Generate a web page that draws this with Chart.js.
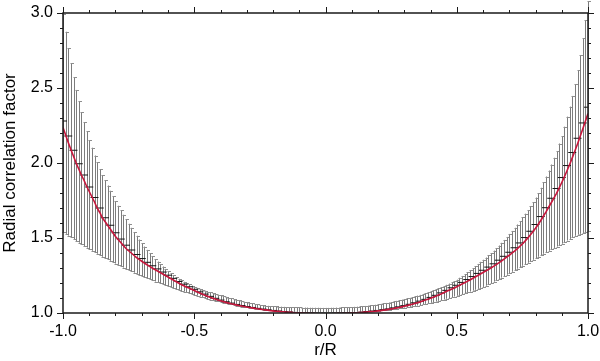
<!DOCTYPE html>
<html>
<head>
<meta charset="utf-8">
<script src="https://cdn.jsdelivr.net/npm/chart.js@4.4.1/dist/chart.umd.min.js"></script>
<style>
  body { margin: 0; background: #fff; }
  canvas { display: block; }
</style>
</head>
<body>
<canvas id="chartCorrelacion" width="600" height="361"></canvas>
<script>
// r/R positions of the bins
const radio = [
  -1.00, -0.99, -0.98, -0.97, -0.96, -0.95, -0.94, -0.93, -0.92, -0.91,
  -0.90, -0.89, -0.88, -0.87, -0.86, -0.85, -0.84, -0.83, -0.82, -0.81,
  -0.80, -0.79, -0.78, -0.77, -0.76, -0.75, -0.74, -0.73, -0.72, -0.71,
  -0.70, -0.69, -0.68, -0.67, -0.66, -0.65, -0.64, -0.63, -0.62, -0.61,
  -0.60, -0.59, -0.58, -0.57, -0.56, -0.55, -0.54, -0.53, -0.52, -0.51,
  -0.50, -0.49, -0.48, -0.47, -0.46, -0.45, -0.44, -0.43, -0.42, -0.41,
  -0.40, -0.39, -0.38, -0.37, -0.36, -0.35, -0.34, -0.33, -0.32, -0.31,
  -0.30, -0.29, -0.28, -0.27, -0.26, -0.25, -0.24, -0.23, -0.22, -0.21,
  -0.20, -0.19, -0.18, -0.17, -0.16, -0.15, -0.14, -0.13, -0.12, -0.11,
  -0.10, -0.09, -0.08, -0.07, -0.06, -0.05, -0.04, -0.03, -0.02, -0.01,
  0.00,
  0.01, 0.02, 0.03, 0.04, 0.05, 0.06, 0.07, 0.08, 0.09, 0.10,
  0.11, 0.12, 0.13, 0.14, 0.15, 0.16, 0.17, 0.18, 0.19, 0.20,
  0.21, 0.22, 0.23, 0.24, 0.25, 0.26, 0.27, 0.28, 0.29, 0.30,
  0.31, 0.32, 0.33, 0.34, 0.35, 0.36, 0.37, 0.38, 0.39, 0.40,
  0.41, 0.42, 0.43, 0.44, 0.45, 0.46, 0.47, 0.48, 0.49, 0.50,
  0.51, 0.52, 0.53, 0.54, 0.55, 0.56, 0.57, 0.58, 0.59, 0.60,
  0.61, 0.62, 0.63, 0.64, 0.65, 0.66, 0.67, 0.68, 0.69, 0.70,
  0.71, 0.72, 0.73, 0.74, 0.75, 0.76, 0.77, 0.78, 0.79, 0.80,
  0.81, 0.82, 0.83, 0.84, 0.85, 0.86, 0.87, 0.88, 0.89, 0.90,
  0.91, 0.92, 0.93, 0.94, 0.95, 0.96, 0.97, 0.98, 0.99, 1.00
]

// red curve
const factor = [
  2.237, 2.187, 2.137, 2.09, 2.045, 2.0, 1.96, 1.92, 1.885, 1.845,
  1.81, 1.775, 1.74, 1.70, 1.67, 1.635, 1.61, 1.585, 1.56, 1.535,
  1.51, 1.49, 1.47, 1.45, 1.43, 1.415, 1.40, 1.385, 1.37, 1.357,
  1.345, 1.333, 1.322, 1.311, 1.30, 1.29, 1.28, 1.27, 1.26, 1.25,
  1.24, 1.23, 1.22, 1.21, 1.20, 1.19, 1.182, 1.174, 1.166, 1.158,
  1.15, 1.142, 1.134, 1.126, 1.119, 1.112, 1.105, 1.099, 1.093, 1.087,
  1.081, 1.076, 1.071, 1.067, 1.062, 1.058, 1.054, 1.05, 1.047, 1.043,
  1.04, 1.037, 1.034, 1.031, 1.028, 1.026, 1.023, 1.021, 1.019, 1.016,
  1.014, 1.012, 1.011, 1.009, 1.008, 1.006, 1.005, 1.004, 1.002, 1.001,
  1.0, 0.999, 0.998, 0.998, 0.997, 0.996, 0.996, 0.995, 0.995, 0.994,
  0.994,
  0.994, 0.995, 0.995, 0.996, 0.996, 0.997, 0.997, 0.998, 0.998, 0.999,
  1.0, 1.001, 1.003, 1.004, 1.006, 1.007, 1.009, 1.01, 1.012, 1.014,
  1.016, 1.019, 1.021, 1.024, 1.027, 1.03, 1.034, 1.037, 1.041, 1.045,
  1.049, 1.054, 1.058, 1.063, 1.068, 1.074, 1.08, 1.086, 1.092, 1.098,
  1.105, 1.112, 1.12, 1.127, 1.135, 1.143, 1.151, 1.159, 1.167, 1.175,
  1.184, 1.193, 1.202, 1.211, 1.22, 1.23, 1.24, 1.25, 1.26, 1.27,
  1.28, 1.29, 1.30, 1.311, 1.322, 1.334, 1.346, 1.359, 1.372, 1.385,
  1.399, 1.413, 1.428, 1.444, 1.46, 1.479, 1.499, 1.52, 1.542, 1.565,
  1.59, 1.617, 1.645, 1.674, 1.705, 1.735, 1.766, 1.798, 1.833, 1.87,
  1.908, 1.948, 1.99, 2.034, 2.08, 2.127, 2.176, 2.227, 2.278, 2.33
]

// top of the gray error bars
const superior = [
  2.99, 2.875, 2.764, 2.666, 2.572, 2.487, 2.411, 2.34, 2.273, 2.211,
  2.152, 2.102, 2.05, 2.005, 1.96, 1.92, 1.885, 1.85, 1.815, 1.78,
  1.745, 1.715, 1.685, 1.655, 1.625, 1.595, 1.568, 1.54, 1.515, 1.49,
  1.465, 1.443, 1.421, 1.40, 1.38, 1.36, 1.343, 1.326, 1.31, 1.294,
  1.279, 1.265, 1.252, 1.24, 1.228, 1.217, 1.208, 1.2, 1.191, 1.183,
  1.175, 1.168, 1.161, 1.155, 1.149, 1.143, 1.138, 1.133, 1.128, 1.123,
  1.118, 1.113, 1.108, 1.103, 1.098, 1.093, 1.088, 1.084, 1.08, 1.076,
  1.072, 1.068, 1.064, 1.06, 1.057, 1.054, 1.052, 1.05, 1.048, 1.046,
  1.045, 1.044, 1.043, 1.042, 1.041, 1.04, 1.039, 1.038, 1.038, 1.037,
  1.037, 1.036, 1.036, 1.036, 1.035, 1.035, 1.035, 1.035, 1.034, 1.034,
  1.034,
  1.034, 1.035, 1.035, 1.036, 1.036, 1.037, 1.037, 1.038, 1.039, 1.04,
  1.041, 1.042, 1.044, 1.045, 1.047, 1.049, 1.051, 1.053, 1.055, 1.058,
  1.061, 1.064, 1.067, 1.07, 1.073, 1.077, 1.081, 1.085, 1.089, 1.093,
  1.097, 1.101, 1.106, 1.111, 1.116, 1.121, 1.127, 1.133, 1.139, 1.145,
  1.152, 1.159, 1.166, 1.173, 1.18, 1.188, 1.196, 1.204, 1.213, 1.222,
  1.235, 1.247, 1.259, 1.272, 1.285, 1.299, 1.313, 1.327, 1.341, 1.355,
  1.37, 1.385, 1.40, 1.416, 1.433, 1.45, 1.468, 1.487, 1.507, 1.527,
  1.547, 1.568, 1.59, 1.613, 1.637, 1.662, 1.686, 1.712, 1.74, 1.77,
  1.80, 1.835, 1.87, 1.91, 1.95, 1.99, 2.035, 2.08, 2.13, 2.18,
  2.242, 2.309, 2.376, 2.447, 2.525, 2.62, 2.72, 2.83, 2.95, 3.08
]

// bottom of the gray error bars
const inferior = [
  1.54, 1.528, 1.516, 1.504, 1.492, 1.48, 1.469, 1.458, 1.447, 1.436,
  1.425, 1.415, 1.405, 1.395, 1.385, 1.375, 1.366, 1.357, 1.348, 1.339,
  1.33, 1.321, 1.312, 1.303, 1.294, 1.285, 1.277, 1.269, 1.261, 1.253,
  1.245, 1.238, 1.231, 1.224, 1.217, 1.21, 1.204, 1.197, 1.191, 1.184,
  1.178, 1.172, 1.166, 1.16, 1.154, 1.148, 1.142, 1.137, 1.131, 1.126,
  1.12, 1.115, 1.11, 1.105, 1.1, 1.095, 1.09, 1.086, 1.081, 1.077,
  1.072, 1.068, 1.064, 1.061, 1.057, 1.053, 1.05, 1.046, 1.043, 1.04,
  1.037, 1.035, 1.032, 1.03, 1.027, 1.025, 1.023, 1.021, 1.02, 1.018,
  1.016, 1.015, 1.014, 1.012, 1.011, 1.01, 1.009, 1.009, 1.008, 1.008,
  1.007, 1.007, 1.006, 1.006, 1.005, 1.005, 1.005, 1.005, 1.005, 1.005,
  1.005,
  1.005, 1.005, 1.005, 1.005, 1.005, 1.005, 1.006, 1.006, 1.006, 1.007,
  1.007, 1.008, 1.008, 1.009, 1.01, 1.011, 1.012, 1.013, 1.015, 1.016,
  1.018, 1.019, 1.021, 1.023, 1.025, 1.027, 1.029, 1.031, 1.034, 1.036,
  1.039, 1.041, 1.044, 1.047, 1.05, 1.053, 1.057, 1.061, 1.064, 1.068,
  1.072, 1.076, 1.081, 1.085, 1.09, 1.095, 1.1, 1.105, 1.11, 1.115,
  1.12, 1.126, 1.131, 1.137, 1.143, 1.149, 1.155, 1.161, 1.168, 1.174,
  1.182, 1.191, 1.2, 1.209, 1.218, 1.227, 1.236, 1.246, 1.255, 1.265,
  1.275, 1.285, 1.295, 1.305, 1.315, 1.325, 1.335, 1.345, 1.355, 1.365,
  1.375, 1.385, 1.395, 1.405, 1.415, 1.424, 1.434, 1.443, 1.453, 1.462,
  1.473, 1.483, 1.494, 1.504, 1.515, 1.522, 1.528, 1.534, 1.539, 1.544
]

// black dash markers (every second bin)
const radioMedia = [
  -1.00, -0.98, -0.96, -0.94, -0.92, -0.90, -0.88, -0.86, -0.84, -0.82,
  -0.80, -0.78, -0.76, -0.74, -0.72, -0.70, -0.68, -0.66, -0.64, -0.62,
  -0.60, -0.58, -0.56, -0.54, -0.52, -0.50, -0.48, -0.46, -0.44, -0.42,
  -0.40, -0.38, -0.36, -0.34, -0.32, -0.30, -0.28, -0.26, -0.24, -0.22,
  -0.20, -0.18, -0.16, -0.14, -0.12, -0.10, -0.08, -0.06, -0.04, -0.02,
  0.00,
  0.02, 0.04, 0.06, 0.08, 0.10, 0.12, 0.14, 0.16, 0.18, 0.20,
  0.22, 0.24, 0.26, 0.28, 0.30, 0.32, 0.34, 0.36, 0.38, 0.40,
  0.42, 0.44, 0.46, 0.48, 0.50, 0.52, 0.54, 0.56, 0.58, 0.60,
  0.62, 0.64, 0.66, 0.68, 0.70, 0.72, 0.74, 0.76, 0.78, 0.80,
  0.82, 0.84, 0.86, 0.88, 0.90, 0.92, 0.94, 0.96, 0.98, 1.00
]
const media = [
  2.28, 2.18, 2.085, 1.995, 1.92, 1.84, 1.77, 1.70, 1.635, 1.585,
  1.535, 1.493, 1.452, 1.42, 1.39, 1.363, 1.338, 1.315, 1.294, 1.273,
  1.252, 1.231, 1.21, 1.192, 1.175, 1.158, 1.141, 1.126, 1.111, 1.098,
  1.086, 1.075, 1.066, 1.057, 1.05, 1.043, 1.037, 1.031, 1.026, 1.021,
  1.017, 1.013, 1.01, 1.007, 1.004, 1.002, 1.0, 0.999, 0.998, 0.997,
  0.996,
  0.997, 0.998, 0.999, 1.0, 1.001, 1.003, 1.006, 1.01, 1.013, 1.017,
  1.022, 1.027, 1.034, 1.041, 1.049, 1.058, 1.068, 1.079, 1.091, 1.104,
  1.118, 1.134, 1.151, 1.168, 1.185, 1.204, 1.223, 1.243, 1.264, 1.285,
  1.306, 1.328, 1.352, 1.378, 1.405, 1.435, 1.467, 1.503, 1.545, 1.59,
  1.643, 1.702, 1.765, 1.83, 1.903, 1.983, 2.07, 2.165, 2.267, 2.372
]

// labelled ticks
const ticksX = [-1.0, -0.5, 0.0, 0.5, 1.0]
const ticksY = [1.0, 1.5, 2.0, 2.5, 3.0]

const fuente = "'Liberation Sans', Arial, Helvetica, sans-serif"

const esMayor = (v, lista) => lista.some(t => Math.abs(t - v) < 1e-6)

// gray error bars, drawn under the curves
const barrasError = {
  id: 'barrasError',
  beforeDatasetsDraw(chart) {
    const { ctx, scales: { x, y } } = chart
    ctx.save()
    ctx.lineWidth = 1
    radio.forEach((r, i) => {
      const px = Math.round(x.getPixelForValue(r)) + 0.5
      const pHi = y.getPixelForValue(superior[i])
      const pLo = y.getPixelForValue(inferior[i])
      ctx.strokeStyle = '#7c7c7c'
      ctx.beginPath()
      ctx.moveTo(px, pHi)
      ctx.lineTo(px, pLo)
      ctx.stroke()
      ctx.strokeStyle = '#8e8e8e'
      ctx.beginPath()
      ctx.moveTo(px - 1, Math.round(pHi) + 0.5)
      ctx.lineTo(px + 2.5, Math.round(pHi) + 0.5)
      ctx.moveTo(px - 1, Math.round(pLo) + 0.5)
      ctx.lineTo(px + 2.5, Math.round(pLo) + 0.5)
      ctx.stroke()
    })
    ctx.restore()
  }
}

// box around the plot with outward major/minor ticks on all sides
const marco = {
  id: 'marco',
  afterDraw(chart) {
    const { ctx, chartArea: a, scales: { x, y } } = chart
    ctx.save()
    ctx.strokeStyle = '#1a1a1a'
    ctx.lineWidth = 1.5
    ctx.strokeRect(a.left, a.top, a.right - a.left, a.bottom - a.top)
    ctx.lineWidth = 1
    ctx.beginPath()
    x.ticks.forEach(t => {
      const px = Math.round(x.getPixelForValue(t.value)) + 0.5
      const len = esMayor(t.value, ticksX) ? 6 : 3
      ctx.moveTo(px, a.bottom)
      ctx.lineTo(px, a.bottom + len)
      ctx.moveTo(px, a.top)
      ctx.lineTo(px, a.top - len)
    })
    y.ticks.forEach(t => {
      const py = Math.round(y.getPixelForValue(t.value)) + 0.5
      const len = esMayor(t.value, ticksY) ? 6 : 3
      ctx.moveTo(a.left, py)
      ctx.lineTo(a.left - len, py)
      ctx.moveTo(a.right, py)
      ctx.lineTo(a.right + len, py)
    })
    ctx.stroke()
    ctx.restore()
  }
}

const ctx = document.getElementById('chartCorrelacion').getContext('2d')

const chartCorrelacion = new Chart(ctx, {
  type: 'line',
  data: {
    datasets: [
      {
        label: 'ajuste',
        data: radio.map((r, i) => ({ x: r, y: factor[i] })),
        borderColor: 'rgb(200, 22, 60)',
        borderWidth: 1.6,
        pointRadius: 0,
        tension: 0,
        order: 0
      },
      {
        type: 'scatter',
        label: 'media',
        data: radioMedia.map((r, i) => ({ x: r, y: media[i] })),
        pointStyle: 'line',
        pointRadius: 4,
        borderColor: '#151515',
        borderWidth: 1,
        order: 1
      }
    ]
  },
  options: {
    responsive: false,
    animation: false,
    layout: { padding: { top: 13, right: 12, left: 0, bottom: 0 } },
    plugins: { legend: { display: false }, tooltip: { enabled: false } },
    scales: {
      x: {
        type: 'linear',
        min: -1,
        max: 1,
        afterFit: s => {
          s.height = 48
          s.paddingLeft = 0
          s.paddingRight = 0
        },
        grid: { display: false, drawTicks: false },
        border: { display: false },
        ticks: {
          stepSize: 0.1,
          autoSkip: false,
          maxRotation: 0,
          padding: 9,
          color: '#000',
          font: { family: fuente, size: 16 },
          callback: v => esMayor(v, ticksX) ? v.toFixed(1) : ''
        },
        title: {
          display: true,
          text: 'r/R',
          color: '#000',
          padding: 0,
          font: { family: fuente, size: 17 }
        }
      },
      y: {
        type: 'linear',
        min: 1,
        max: 3,
        afterFit: s => {
          s.width = 63
          s.paddingTop = 0
          s.paddingBottom = 0
        },
        grid: { display: false, drawTicks: false },
        border: { display: false },
        ticks: {
          stepSize: 0.1,
          autoSkip: false,
          padding: 10,
          color: '#000',
          font: { family: fuente, size: 16 },
          callback: v => esMayor(v, ticksY) ? v.toFixed(1) : ''
        },
        title: {
          display: true,
          text: 'Radial correlation factor',
          color: '#000',
          padding: 0,
          font: { family: fuente, size: 17 }
        }
      }
    }
  },
  plugins: [barrasError, marco]
})
</script>
</body>
</html>
